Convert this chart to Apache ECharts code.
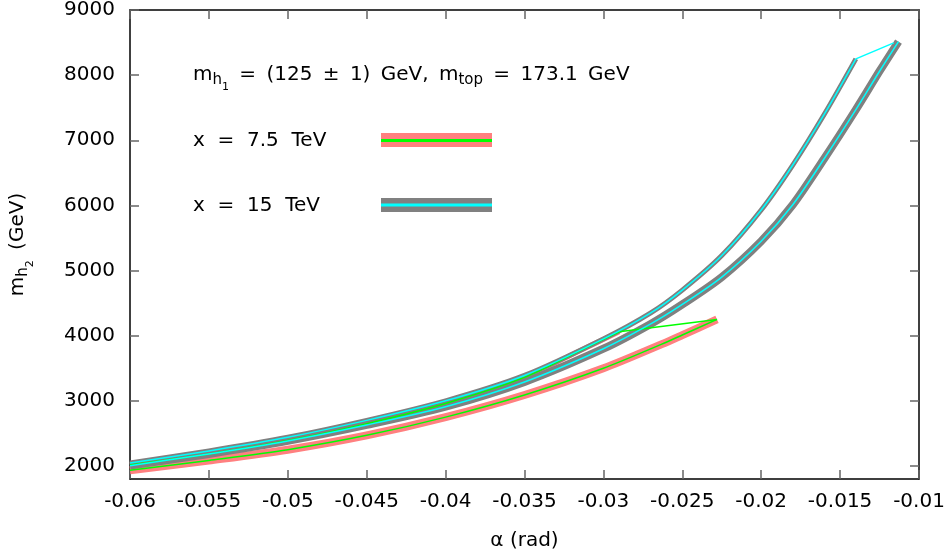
<!DOCTYPE html>
<html>
<head>
<meta charset="utf-8">
<script src="https://cdn.jsdelivr.net/npm/echarts@6/dist/echarts.min.js"></script>
<style>
html,body{margin:0;padding:0;background:#fff;}
#c{width:950px;height:556px;}
</style>
</head>
<body>
<div id="c"></div>
<script>
// ---- data ----
const yTicks = [2000, 3000, 4000, 5000, 6000, 7000, 8000, 9000];

// x = 15 TeV, upper branch (alpha in rad, m_h2 in GeV), ends at the kink
const alpha15Up = [-0.060, -0.055, -0.050, -0.045, -0.040, -0.035, -0.030, -0.027, -0.025, -0.0225, -0.020, -0.018, -0.016, -0.014];
const mass15Up  = [2045, 2230, 2440, 2700, 3000, 3390, 3950, 4350, 4700, 5230, 5930, 6620, 7400, 8250];
// x = 15 TeV, tip of the loop
const alpha15Tip = -0.0116, mass15Tip = 8495;
// x = 15 TeV, lower branch
const alpha15Lo = [-0.060, -0.055, -0.050, -0.045, -0.040, -0.035, -0.030, -0.027, -0.025, -0.0225, -0.020, -0.018, -0.016, -0.014, -0.0125, -0.0113];
const mass15Lo  = [2005, 2185, 2385, 2630, 2910, 3290, 3800, 4180, 4480, 4900, 5450, 6010, 6720, 7470, 8060, 8515];

// x = 7.5 TeV, upper branch, ends at the kink
const alpha75Up = [-0.060, -0.055, -0.050, -0.045, -0.040, -0.035, -0.0314, -0.029];
const mass75Up  = [2015, 2185, 2390, 2650, 2960, 3360, 3780, 4060];
// x = 7.5 TeV, tip
const alpha75Tip = -0.0228, mass75Tip = 4250;
// x = 7.5 TeV, lower branch
const alpha75Lo = [-0.060, -0.055, -0.050, -0.045, -0.040, -0.035, -0.030, -0.0263, -0.025, -0.0228];
const mass75Lo  = [1935, 2085, 2250, 2470, 2750, 3090, 3500, 3870, 4010, 4250];

// ---- build series data ----
const pairs = (xs, ys) => xs.map((x, i) => [x, ys[i]]);
const up15 = pairs(alpha15Up, mass15Up);
const lo15 = pairs(alpha15Lo, mass15Lo);
const up75 = pairs(alpha75Up, mass75Up);
const lo75 = pairs(alpha75Lo, mass75Lo);
const kink15 = [up15[up15.length - 1], [alpha15Tip, mass15Tip]];
const kink75 = [up75[up75.length - 1], [alpha75Tip, mass75Tip]];

const PINK = '#ff8080', GREEN = '#00ff00', GRAY = '#808080', CYAN = '#00ffff';
const FONT = 'DejaVu Sans';

function lineSeries(data, color, width, z, smooth) {
  return {
    type: 'line', data: data, showSymbol: false, symbol: 'none', z: z,
    smooth: smooth ? 0.3 : false,
    lineStyle: { color: color, width: width, cap: 'butt', join: 'round' },
    emphasis: { disabled: true }, silent: true
  };
}

const chart = echarts.init(document.getElementById('c'), null, { renderer: 'canvas' });

const richMain = {
  n: { fontSize: 20, fontFamily: FONT, color: '#000', verticalAlign: 'top' },
  s: { fontSize: 15, fontFamily: FONT, color: '#000', verticalAlign: 'top', padding: [8, 0, 0, 0] },
  ss: { fontSize: 11, fontFamily: FONT, color: '#000', verticalAlign: 'top', padding: [17, 0, 0, 0] }
};

const axisCommon = {
  type: 'value',
  splitLine: { show: false },
  axisLine: { show: true, onZero: false, lineStyle: { color: '#000', width: 1.5 } },
  axisTick: { show: true, inside: true, length: 9, lineStyle: { color: '#666', width: 1.5 } }
};
const tickStyle = { show: true, inside: true, length: 9, lineStyle: { color: '#666', width: 1.5 }, customValues: yTicks };
const G = ' \u2009';

chart.setOption({
  animation: false,
  backgroundColor: '#fff',
  grid: { left: 128, right: 31, top: 10, bottom: 77, containLabel: false },
  xAxis: [
    Object.assign({}, axisCommon, {
      position: 'bottom', min: -0.06, max: -0.01, interval: 0.005,
      axisLabel: { fontSize: 20, fontFamily: FONT, color: '#000', margin: 13,
        formatter: v => String(parseFloat(v.toFixed(3))) },
      name: 'α (rad)', nameLocation: 'middle', nameGap: 52,
      nameTextStyle: { fontSize: 20, fontFamily: FONT, color: '#000' }
    }),
    Object.assign({}, axisCommon, {
      position: 'top', min: -0.06, max: -0.01, interval: 0.005,
      axisLabel: { show: false }
    })
  ],
  yAxis: [
    Object.assign({}, axisCommon, {
      position: 'left', min: 1800, max: 9000,
      axisLabel: { fontSize: 20, fontFamily: FONT, color: '#000', margin: 15, customValues: yTicks,
        formatter: v => String(v) },
      axisTick: tickStyle,
      name: '{n|m}{s|h}{ss|2}{n|' + G + '(GeV)}', nameLocation: 'middle', nameGap: 94, nameRotate: 90,
      nameTextStyle: { rich: richMain }
    }),
    Object.assign({}, axisCommon, {
      position: 'right', min: 1800, max: 9000,
      axisLabel: { show: false, customValues: yTicks },
      axisTick: tickStyle
    })
  ],
  series: [
    lineSeries(up75, PINK, 5, 1, true),
    lineSeries(lo75, PINK, 8, 1, true),
    lineSeries(up15, GRAY, 5, 2, true),
    lineSeries(lo15, GRAY, 8, 2, true),
    lineSeries(up75, GREEN, 1.5, 3, true),
    lineSeries(lo75, GREEN, 1.5, 3, true),
    lineSeries(kink75, GREEN, 1.5, 3, false),
    lineSeries(up15, CYAN, 1.5, 4, true),
    lineSeries(lo15, CYAN, 1.5, 4, true),
    lineSeries(kink15, CYAN, 1.5, 4, false)
  ],
  graphic: [
    { type: 'text', x: 193, y: 65, style: { text: '{n|m}{s|h}{ss|1}{n|' + G + '=' + G + '(125' + G + '±' + G + '1)' + G + 'GeV,' + G + 'm}{s|top}{n|' + G + '=' + G + '173.1' + G + 'GeV}', rich: richMain, verticalAlign: 'top' } },
    { type: 'text', x: 193, y: 131, style: { text: 'x  =  7.5  TeV', fontSize: 20, fontFamily: FONT, fill: '#000', verticalAlign: 'top' } },
    { type: 'text', x: 193, y: 196, style: { text: 'x  =  15  TeV', fontSize: 20, fontFamily: FONT, fill: '#000', verticalAlign: 'top' } },
    { type: 'rect', shape: { x: 381, y: 133, width: 111, height: 14 }, style: { fill: PINK } },
    { type: 'rect', shape: { x: 381, y: 139, width: 111, height: 3 }, style: { fill: GREEN } },
    { type: 'rect', shape: { x: 381, y: 198, width: 111, height: 14 }, style: { fill: GRAY } },
    { type: 'rect', shape: { x: 381, y: 203.5, width: 111, height: 3 }, style: { fill: CYAN } }
  ]
});
</script>
</body>
</html>
